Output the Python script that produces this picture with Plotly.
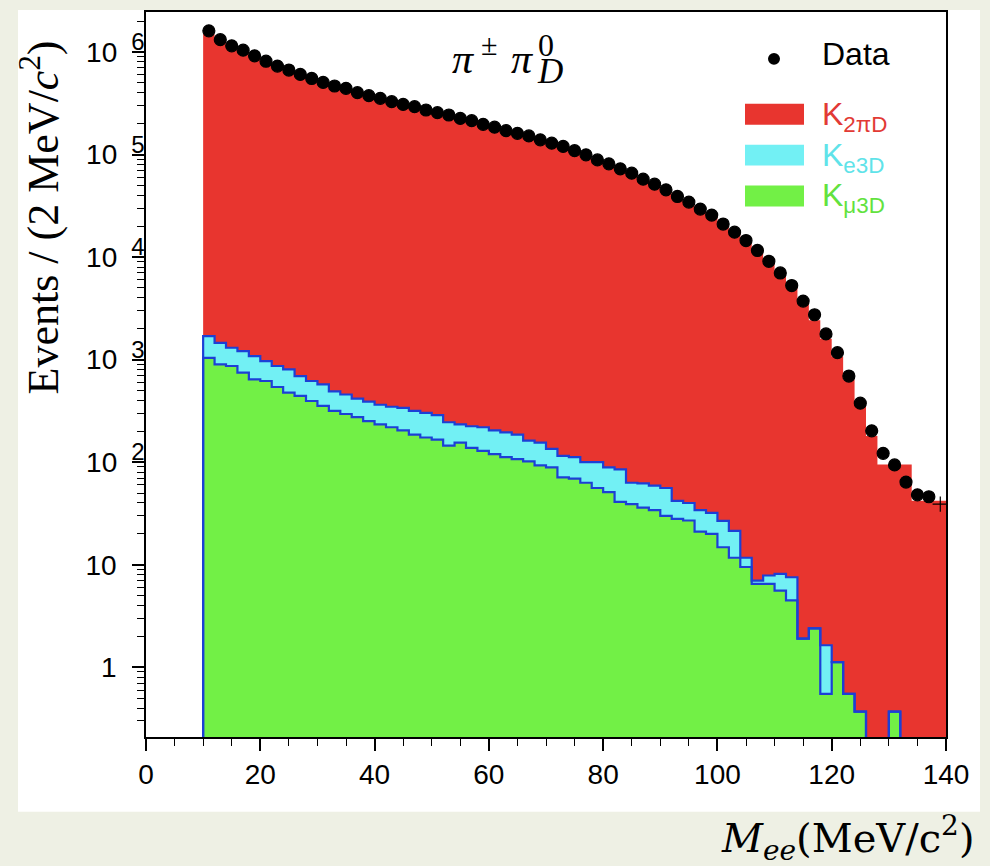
import plotly.graph_objects as go

# ---------------- data ----------------
bin_edges_lo = 10          # first bin lower edge (MeV/c^2)
bin_width = 2
n_bins = 65
centers = [bin_edges_lo + bin_width * (i + 0.5) for i in range(n_bins)]   # 11 ... 139

data_counts = [
    1.607e6, 1.318e6, 1.148e6, 1.042e6, 9.18e5, 8.13e5, 7.29e5, 6.67e5, 6.04e5, 5.52e5,
    5.05e5, 4.66e5, 4.42e5, 4.01e5, 3.75e5, 3.53e5, 3.28e5, 3.08e5, 2.93e5, 2.72e5,
    2.56e5, 2.43e5, 2.25e5, 2.14e5, 1.97e5, 1.85e5, 1.71e5, 1.61e5, 1.52e5, 1.39e5,
    1.29e5, 1.20e5, 1.09e5, 9.93e4, 8.87e4, 8.11e4, 7.26e4, 6.58e4, 5.75e4, 5.14e4,
    4.53e4, 3.90e4, 3.44e4, 2.94e4, 2.57e4, 2.10e4, 1.75e4, 1.45e4, 1.16e4, 9100,
    7000, 5280, 3720, 2740, 1780, 1170, 692, 376, 202, 122,
    94, 64, 48, 46, 39,
]

k2pid = [
    1.50e6, 1.31e6, 1.14e6, 1.04e6, 9.15e5, 8.10e5, 7.27e5, 6.65e5, 6.02e5, 5.50e5,
    5.03e5, 4.64e5, 4.40e5, 4.00e5, 3.74e5, 3.52e5, 3.27e5, 3.07e5, 2.92e5, 2.71e5,
    2.55e5, 2.42e5, 2.24e5, 2.13e5, 1.96e5, 1.84e5, 1.70e5, 1.60e5, 1.51e5, 1.38e5,
    1.28e5, 1.19e5, 1.08e5, 9.85e4, 8.80e4, 8.05e4, 7.20e4, 6.52e4, 5.70e4, 5.10e4,
    4.50e4, 3.87e4, 3.41e4, 2.92e4, 2.55e4, 2.08e4, 1.74e4, 1.44e4, 1.15e4, 9000,
    6950, 5200, 3680, 2420, 1600, 1070, 640, 365, 180, 95,
    95, 95, 42, 42, 42,
]

ke3d = [
    656, 560, 439, 467, 441, 349, 326, 328, 249, 224,
    221, 174, 162, 142, 138, 129, 128, 135, 130, 128,
    122, 100, 79, 86, 90, 84, 83, 79, 60, 62,
    46, 44, 43, 37, 44, 38, 44, 24, 26, 25,
    26, 14, 13, 13, 12, 12, 9.7, 2.2, 0.5, 1.35,
    2.55, 3.05, 0, 0, 1.09, 0, 0, 0, 0, 0,
    0, 0, 0, 0, 0,
]

kmu3d = [
    1042, 899, 867, 746, 643, 619, 541, 476, 443, 395,
    354, 316, 295, 275, 251, 234, 219, 204, 186, 174,
    166, 145, 155, 138, 129, 120, 112, 107, 102, 93,
    89, 71, 69, 63, 56, 51, 41, 39, 36, 34,
    30, 28, 27, 21, 20, 14.8, 11.7, 9.5, 6.5, 6.5,
    5.6, 4.5, 1.9, 2.4, 0.55, 1.12, 0.55, 0.37, 0, 0,
    0.37, 0, 0, 0, 0,
]

y_tick_vals = [1, 10, 100, 1e3, 1e4, 1e5, 1e6]
y_tick_exps = ["", "", "2", "3", "4", "5", "6"]
x_tick_vals = [0, 20, 40, 60, 80, 100, 120, 140]

# ---------------- styling ----------------
RED = "#e8352f"
CYAN = "#72f0f4"
GREEN = "#72f046"
BLUE = "#1c3fd6"
CREAM = "#eef0e4"
SANS = "Liberation Sans, Arial, sans-serif"
SERIF = "Liberation Serif, Times New Roman, serif"
WSERIF = "DejaVu Serif, serif"

W, H = 990, 866
L, R, T, B = 146, 44, 10, 129
PW, PH = W - L - R, H - T - B


def pp(px, py):
    """pixel -> paper coordinates"""
    return (px - L) / PW, 1 - (py - T) / PH


y_tick_text = []
for v, e in zip(y_tick_vals, y_tick_exps):
    if e:
        y_tick_text.append("10\u2002<sup><span style=\"font-size:24px\">%s</span></sup>" % e)
    else:
        y_tick_text.append(("%d" % v) + "\u2003")

# stacked totals
stack_mu = kmu3d
stack_e = [a + b for a, b in zip(kmu3d, ke3d)]
stack_all = [a + b for a, b in zip(stack_e, k2pid)]

FLOOR = 1e-3


def step_outline(vals):
    xs = [bin_edges_lo]
    ys = [FLOOR]
    for i, v in enumerate(vals):
        xs.append(bin_edges_lo + bin_width * i)
        ys.append(v if v > 0 else FLOOR)
    xs += [bin_edges_lo + bin_width * n_bins, bin_edges_lo + bin_width * n_bins]
    ys += [ys[-1], FLOOR]
    return xs, ys


fig = go.Figure()

# filled stacked histograms
for vals, col in [(stack_all, RED), (stack_e, CYAN), (stack_mu, GREEN)]:
    xs, ys = step_outline(vals)
    fig.add_trace(go.Scatter(
        x=xs, y=ys, mode="lines", fill="toself", fillcolor=col,
        line=dict(width=0, shape="hv", color=col),
        showlegend=False, hoverinfo="skip",
    ))

# blue outlines of the two lower components
for vals in [stack_e, stack_mu]:
    xs, ys = step_outline(vals)
    fig.add_trace(go.Scatter(
        x=xs, y=ys, mode="lines", line=dict(color=BLUE, width=2.2, shape="hv"),
        showlegend=False, hoverinfo="skip",
    ))

symbols = ["circle"] * (n_bins - 1) + ["cross-thin"]
fig.add_trace(go.Scatter(
    x=centers, y=data_counts, mode="markers", opacity=1,
    marker=dict(symbol=symbols, size=[12] * (n_bins - 1) + [11], color="black", opacity=1,
                line=dict(color="black", width=1.2)),
    showlegend=False, cliponaxis=False,
))

shapes = []
annotations = []

# white panel behind the chart
x0, y0 = pp(18, 8)
x1, y1 = pp(980, 812)
shapes.append(dict(type="rect", xref="paper", yref="paper", x0=x0, x1=x1, y0=y1, y1=y0,
                   fillcolor="white", line=dict(width=0), layer="below"))

# legend (drawn manually)
cx, cy = pp(768, 51)
cx2, cy2 = pp(780, 63)
shapes.append(dict(type="circle", xref="paper", yref="paper", x0=cx, x1=cx2, y0=cy2, y1=cy,
                   fillcolor="black", line=dict(color="black", width=0)))
lx, ly = pp(820, 52)
annotations.append(dict(text="Data", x=lx, y=ly, xref="paper", yref="paper", xanchor="left",
                        yanchor="middle", showarrow=False, font=dict(family=SANS, size=32, color="black")))

legend_items = [
    ("K<sub>2πD</sub>", RED, "#e23a35", 102, 123),
    ("K<sub>e3D</sub>", CYAN, "#5fe3e9", 143, 164),
    ("K<sub>μ3D</sub>", GREEN, "#62e23e", 184, 205),
]
for label, fill, tcol, ytop, ybot in legend_items:
    a0, b0 = pp(745, ytop)
    a1, b1 = pp(804, ybot)
    shapes.append(dict(type="rect", xref="paper", yref="paper", x0=a0, x1=a1, y0=b1, y1=b0,
                       fillcolor=fill, line=dict(width=0)))
    tx, ty = pp(820, (ytop + ybot) / 2 + 2)
    annotations.append(dict(text=label, x=tx, y=ty, xref="paper", yref="paper", xanchor="left",
                            yanchor="middle", showarrow=False,
                            font=dict(family=SANS, size=32, color=tcol)))

# title inside the frame: pi^{+-} pi^{0}_{D}
title_parts = [
    ("<i>π</i>", 463, 57, 42),
    ("±", 489, 43, 30),
    ("<i>π</i>", 522, 57, 42),
]
for txt, px, py, sz in title_parts:
    tx, ty = pp(px, py)
    annotations.append(dict(text=txt, x=tx, y=ty, xref="paper", yref="paper", xanchor="center",
                            yanchor="middle", showarrow=False,
                            font=dict(family=SERIF, size=sz, color="black")))
# stacked super/subscript "0 over D" as one two-line text
tx, ty = pp(535, 57)
annotations.append(dict(
    text="<span style=\"font-size:32px\">0</span><br><span style=\"font-size:35px\"><i>D</i></span>",
    x=tx, y=ty, xref="paper", yref="paper", xanchor="left", yanchor="middle", align="left",
    showarrow=False, font=dict(family=SERIF, size=21, color="black")))

# y-axis title
tx, ty = pp(40, 216)
annotations.append(dict(text="Events / (2 MeV/<i>c</i><sup>2</sup>)", x=tx, y=ty, xref="paper",
                        yref="paper", xanchor="center", yanchor="middle", textangle=-90,
                        showarrow=False, font=dict(family=SERIF, size=44, color="black")))

# x-axis title (below the panel)
tx, ty = pp(977, 838)
annotations.append(dict(text="<i>M</i><sub><i>ee</i></sub>(MeV/c<sup>2</sup>)", x=tx, y=ty,
                        xref="paper", yref="paper", xanchor="right", yanchor="middle",
                        showarrow=False, font=dict(family=WSERIF, size=40, color="black")))

y_minor = [k * 10 ** d for d in range(-1, 7) for k in range(2, 10) if 0.2 < k * 10 ** d < 2.4e6]

fig.update_layout(
    width=W, height=H,
    margin=dict(l=L, r=R, t=T, b=B, pad=0),
    paper_bgcolor=CREAM, plot_bgcolor="white",
    shapes=shapes, annotations=annotations,
    xaxis=dict(
        range=[0, 140], tickmode="array", tickvals=x_tick_vals,
        ticks="outside", ticklen=12, tickwidth=1.6, tickcolor="black",
        showline=True, linecolor="black", linewidth=1.6, mirror=True,
        showgrid=False, zeroline=False,
        tickfont=dict(family=SANS, size=28, color="black"),
        minor=dict(dtick=5, tick0=0, ticks="outside", ticklen=7, tickwidth=1.4, tickcolor="black",
                   showgrid=False),
    ),
    yaxis=dict(
        type="log", range=[-0.68, 6.39], tickmode="array", tickvals=y_tick_vals, ticktext=y_tick_text,
        ticks="outside", ticklen=12, tickwidth=1.6, tickcolor="black",
        showline=True, linecolor="black", linewidth=1.6, mirror=True,
        showgrid=False, zeroline=False, ticklabelstandoff=-18,
        tickfont=dict(family=SANS, size=28, color="black"),
        minor=dict(tickmode="array", tickvals=y_minor, ticks="outside", ticklen=7, tickwidth=1.4,
                   tickcolor="black", showgrid=False),
    ),
)

fig.write_html("out.html")
